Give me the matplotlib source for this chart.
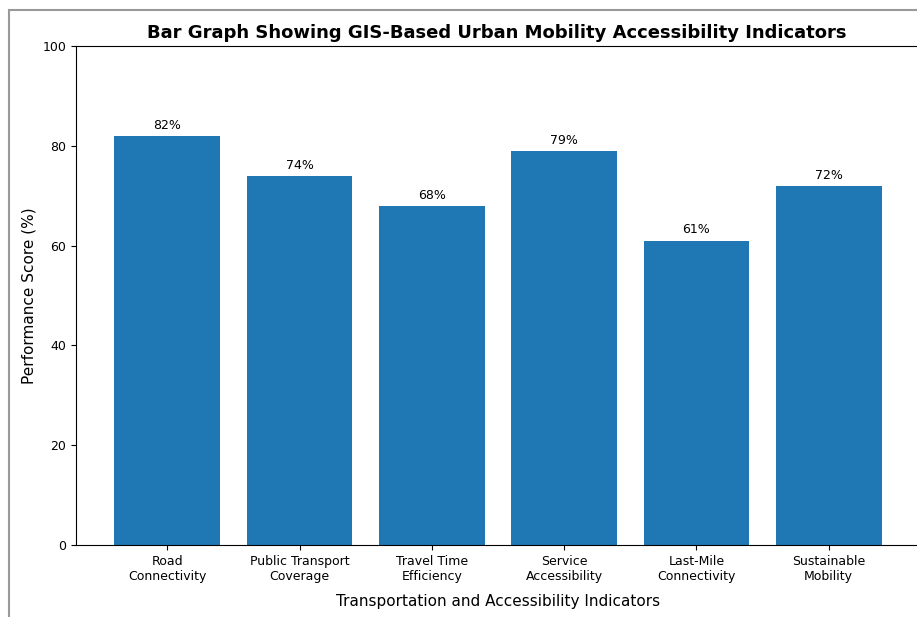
import matplotlib
matplotlib.use("Agg")
import matplotlib.pyplot as plt
from matplotlib.patches import Rectangle

categories = ["Road\nConnectivity", "Public Transport\nCoverage", "Travel Time\nEfficiency",
              "Service\nAccessibility", "Last-Mile\nConnectivity", "Sustainable\nMobility"]
scores = [82, 74, 68, 79, 61, 72]

W, H = 917, 617
fig = plt.figure(figsize=(W / 100, H / 100), dpi=100)
# axes: left 76px, right ~920px, top 46px, bottom 545px
ax = fig.add_axes([76 / W, 1 - 545 / H, (920 - 76) / W, (545 - 46) / H])
bars = ax.bar(range(len(categories)), scores, color="#1f77b4", width=0.8)
for b, v in zip(bars, scores):
    ax.annotate(f"{v}%", (b.get_x() + b.get_width() / 2, v), xytext=(0, 3),
                textcoords="offset points", ha="center", va="bottom", fontsize=9)
ax.set_xticks(range(len(categories)))
ax.set_xticklabels(categories, fontsize=9)
ax.tick_params(axis="y", labelsize=9)
ax.set_ylim(0, 100)
ax.set_xlim(-0.69, 5.69)
ax.set_title("Bar Graph Showing GIS-Based Urban Mobility Accessibility Indicators",
             fontsize=13, fontweight="bold", x=(497 - 76) / (920 - 76), pad=6)
ax.set_ylabel("Performance Score (%)", fontsize=11)
ax.set_xlabel("Transportation and Accessibility Indicators", fontsize=11, labelpad=8)

# screenshot frame
fig.add_artist(Rectangle((9 / W, -0.1), 1.2, 1 - 10 / H + 0.1, transform=fig.transFigure,
                         fill=False, edgecolor="#999999", linewidth=1.5))
fig.savefig("out.png", dpi=100)
